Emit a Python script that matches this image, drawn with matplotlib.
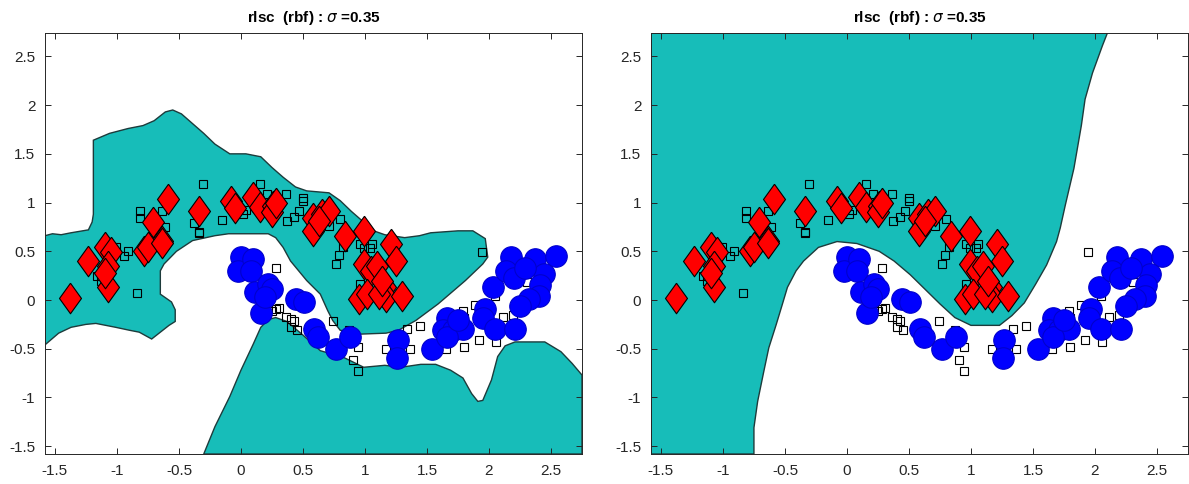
import matplotlib
matplotlib.use('Agg')
import matplotlib.pyplot as plt
import numpy as np

plt.rcParams['font.family'] = ['Liberation Sans', 'DejaVu Sans']

# labelled points: class +1 (red diamonds)
red_x = [-0.59, -0.34, -0.71, -0.64, -0.08, -0.05, 0.10, 0.15, 0.26, 0.25, 0.28,
         0.58, 0.58, 0.65, 0.71, 0.63, 0.84, 0.99, 1.21, -1.38, -1.23, -1.10,
         -1.05, -1.07, -1.07, -1.10, -0.78, -0.75, -0.64, 1.25, 0.99, 1.05,
         1.10, 1.16, 1.17, 0.95, 1.02, 1.30, 1.11, 1.14]
red_y = [1.04, 0.91, 0.80, 0.61, 1.02, 0.94, 1.06, 0.95, 0.96, 0.90, 1.00,
         0.84, 0.71, 0.88, 0.91, 0.81, 0.66, 0.71, 0.58, 0.02, 0.40, 0.54,
         0.49, 0.35, 0.13, 0.28, 0.50, 0.54, 0.59, 0.40, 0.37, 0.30,
         0.35, 0.13, 0.03, 0.01, 0.06, 0.04, 0.06, 0.20]

# labelled points: class -1 (blue circles)
blue_x = [0.00, -0.02, 0.10, 0.08, 0.11, 0.16, 0.22, 0.25, 0.19, 0.44, 0.51,
          0.59, 0.62, 0.77, 0.88, 1.27, 1.26, 1.54, 1.66, 1.63, 1.71, 1.79,
          1.66, 1.97, 1.95, 2.05, 2.21, 2.03, 2.18, 2.14, 2.20, 2.37, 2.54,
          2.44, 2.41, 2.40, 2.32, 2.25, 2.29, 1.75]
blue_y = [0.44, 0.30, 0.42, 0.30, 0.08, -0.13, 0.16, 0.11, 0.03, 0.01, -0.02,
          -0.30, -0.38, -0.50, -0.38, -0.41, -0.60, -0.50, -0.18, -0.31, -0.31, -0.30,
          -0.38, -0.09, -0.18, -0.30, -0.30, 0.13, 0.44, 0.30, 0.23, 0.42, 0.45,
          0.27, 0.15, 0.04, 0.01, -0.06, 0.33, -0.21]

# unlabelled points (open squares)
unl_x = [-0.31, 0.15, 0.36, 0.21, 0.50, 0.50, -0.81, -0.81, -0.64, -0.61, -0.38,
         -0.34, -0.15, 0.04, 0.02, 0.37, 0.43, 0.47, 0.80, 0.71, 0.96, 0.99,
         1.06, 1.04, -1.16, -1.13, -1.01, -0.91, -0.94, -0.84, -0.34, 0.10,
         0.28, 0.28, 0.31, 0.25, 0.36, 0.40, 0.43, 0.40, 0.45, 0.74, 0.77,
         0.79, 0.82, 0.87, 0.94, 0.90, 0.94, 0.96, 1.17, 1.34, 1.44, 1.36,
         1.65, 1.80, 1.79, 1.80, 1.89, 1.92, 2.06, 2.11, 2.19, 2.31, 2.29,
         2.05, 1.94]
unl_y = [1.19, 1.19, 1.09, 1.09, 1.05, 1.02, 0.91, 0.84, 0.91, 0.75, 0.79,
         0.70, 0.82, 0.92, 0.88, 0.81, 0.85, 0.91, 0.83, 0.76, 0.57, 0.53,
         0.58, 0.53, 0.25, 0.20, 0.54, 0.50, 0.45, 0.07, 0.69, 0.48,
         0.33, -0.09, -0.08, -0.11, -0.17, -0.19, -0.22, -0.28, -0.31, -0.22, 0.37,
         0.46, 0.54, -0.31, -0.48, -0.62, -0.73, 0.16, -0.50, -0.30, -0.27, -0.50,
         -0.50, -0.48, -0.11, -0.18, -0.05, -0.41, -0.43, -0.17, -0.15, 0.18, 0.04,
         0.04, 0.49]

# decision region outlines
left_upper_x = [-1.58, -1.52, -1.45, -1.37, -1.23, -1.20, -1.19, -1.19, -1.06, -0.91,
                -0.79, -0.70, -0.61, -0.55, -0.48, -0.39, -0.30, -0.21, -0.09, 0.04,
                0.16, 0.25, 0.34, 0.44, 0.53, 0.71, 0.80, 0.89, 0.98, 1.07, 1.16,
                1.32, 1.44, 1.53, 1.75, 1.87, 1.97, 1.99, 1.95, 1.81, 1.59, 1.41,
                1.27, 1.17, 0.96, 0.80, 0.74, 0.70, 0.64, 0.53, 0.40, 0.34, 0.28,
                0.22, 0.10, -0.10, -0.21, -0.39, -0.52, -0.62, -0.65, -0.65, -0.56,
                -0.53, -0.53, -0.58, -0.72, -0.82, -0.90, -1.01, -1.17, -1.25, -1.37,
                -1.47, -1.58]
left_upper_y = [0.66, 0.68, 0.67, 0.69, 0.72, 0.80, 0.88, 1.64, 1.71, 1.76,
                1.79, 1.84, 1.93, 1.95, 1.91, 1.81, 1.71, 1.60, 1.50, 1.50,
                1.47, 1.36, 1.26, 1.16, 1.12, 1.10, 1.02, 0.91, 0.81, 0.71, 0.67,
                0.64, 0.66, 0.69, 0.71, 0.71, 0.63, 0.44, 0.37, 0.20, -0.04, -0.21,
                -0.31, -0.34, -0.35, -0.31, -0.21, -0.11, 0.06, 0.20, 0.40, 0.54, 0.64,
                0.68, 0.68, 0.68, 0.66, 0.61, 0.50, 0.37, 0.30, 0.06, -0.02,
                -0.10, -0.22, -0.26, -0.40, -0.33, -0.31, -0.28, -0.24, -0.25, -0.28,
                -0.34, -0.46]

left_lower_x = [-0.30, -0.21, -0.09, 0.00, 0.10, 0.16, 0.22, 0.28, 0.37, 0.50, 0.64,
                0.83, 0.99, 1.16, 1.29, 1.45, 1.57, 1.69, 1.79, 1.86, 1.91, 1.95,
                2.02, 2.07, 2.13, 2.21, 2.45, 2.58, 2.67, 2.75, 2.75]
left_lower_y = [-1.58, -1.30, -0.99, -0.72, -0.45, -0.28, -0.20, -0.18, -0.22, -0.36, -0.52,
                -0.59, -0.69, -0.67, -0.69, -0.66, -0.66, -0.72, -0.80, -0.96, -1.04, -1.03,
                -0.82, -0.58, -0.47, -0.43, -0.43, -0.53, -0.65, -0.77, -1.58]

right_x = [-1.58, 2.10, 2.06, 1.98, 1.92, 1.89, 1.83, 1.76, 1.72, 1.69, 1.61, 1.52,
           1.43, 1.33, 1.23, 1.00, 0.87, 0.75, 0.63, 0.51, 0.38, 0.26, 0.08, -0.08,
           -0.23, -0.35, -0.41, -0.48, -0.52, -0.57, -0.63, -0.67, -0.72, -0.75,
           -0.75, -1.58]
right_y = [2.74, 2.74, 2.61, 2.33, 2.06, 1.79, 1.35, 0.97, 0.74, 0.60, 0.36, 0.16,
           -0.03, -0.16, -0.26, -0.26, -0.18, -0.04, 0.11, 0.26, 0.40, 0.50, 0.58, 0.60,
           0.54, 0.40, 0.30, 0.13, -0.04, -0.25, -0.49, -0.73, -1.04, -1.31,
           -1.58, -1.58]

xlim = (-1.58, 2.75)
ylim = (-1.58, 2.74)
ticks = [-1.5, -1, -0.5, 0, 0.5, 1, 1.5, 2, 2.5]
tick_labels = ['-1.5', '-1', '-0.5', '0', '0.5', '1', '1.5', '2', '2.5']
teal = '#17bdb9'
title = r'rlsc  (rbf) : $\sigma$ =0.35'

# MATLAB-style diamond, a bit taller than wide
diamond = [(0, 1), (0.72, 0), (0, -1), (-0.72, 0), (0, 1)]

fig = plt.figure(figsize=(11.89, 4.84), dpi=100)
ax1 = fig.add_axes([45 / 1189, 1 - 454 / 484, 537 / 1189, 421 / 484])
ax2 = fig.add_axes([651 / 1189, 1 - 454 / 484, 537 / 1189, 421 / 484])

regions = {ax1: [(left_upper_x, left_upper_y), (left_lower_x, left_lower_y)],
           ax2: [(right_x, right_y)]}

for ax in (ax1, ax2):
    for px, py in regions[ax]:
        ax.fill(px, py, facecolor=teal, edgecolor='#1d3b3b', linewidth=1.0, zorder=1)
    ax.plot(unl_x, unl_y, 's', markersize=5.5, markerfacecolor='none',
            markeredgecolor='black', markeredgewidth=0.8, zorder=2)
    ax.plot(red_x, red_y, marker=diamond, linestyle='none', markersize=22,
            markerfacecolor='#ff0000', markeredgecolor='black',
            markeredgewidth=0.8, zorder=3)
    ax.plot(blue_x, blue_y, 'o', markersize=15.5, markerfacecolor='#0000ff',
            markeredgecolor='#0000cc', markeredgewidth=0.8, zorder=4)
    ax.set_xlim(xlim)
    ax.set_ylim(ylim)
    ax.set_xticks(ticks)
    ax.set_xticklabels(tick_labels)
    ax.set_yticks(ticks)
    ax.set_yticklabels(tick_labels)
    ax.tick_params(direction='in', top=True, right=True, length=4, width=0.7,
                   labelsize=11, colors='#262626', pad=7)
    for sp in ax.spines.values():
        sp.set_color('#262626')
        sp.set_linewidth(0.7)
    ax.set_title(title, fontsize=11, fontweight='bold', pad=8)

fig.savefig('out.png', dpi=100)
